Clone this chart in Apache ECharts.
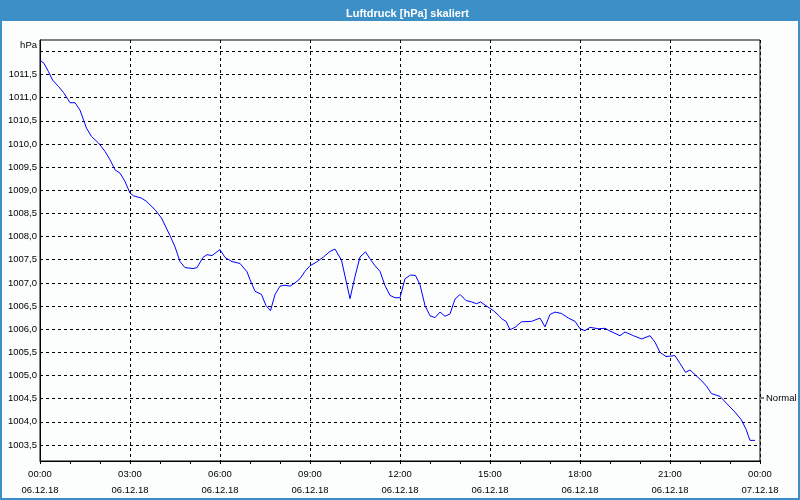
<!DOCTYPE html>
<html>
<head>
<meta charset="utf-8">
<script src="https://cdn.jsdelivr.net/npm/echarts@6/dist/echarts.min.js"></script>
<style>
html,body{margin:0;padding:0;background:#fcfefd;}
#c{width:800px;height:500px;}
</style>
</head>
<body>
<div id="c"></div>
<script>
// time in minutes since 06.12.18 00:00
const minutes = [0,8,17,25,37,47,60,70,80,87,93,103,117,130,140,150,160,170,180,187,203,213,230,243,
260,270,280,290,306,314,326,334,344,360,370,384,400,414,
420,430,443,452,461,470,480,490,500,510,520,530,540,553,567,580,590,603,620,630,640,651,660,670,680,690,700,710,720,
730,741,751,760,770,780,790,800,810,820,830,840,852,863,873,881,893,907,919,
923,932,940,950,963,983,1000,1010,1020,1030,1043,1057,1070,1080,1090,1100,1117,1130,1140,1160,1170,1187,1203,
1220,1230,1240,1252,1270,1280,1291,1300,1310,1323,1333,1343,1360,1373,1390,1403,1412,1420,1430];
const pressure = [1011.81,1011.74,1011.56,1011.38,1011.24,1011.11,1010.89,1010.89,1010.73,1010.52,1010.34,1010.16,1010.02,1009.84,1009.66,1009.44,1009.37,1009.19,1008.94,1008.88,1008.83,1008.76,1008.58,1008.40,
1008.02,1007.78,1007.46,1007.33,1007.31,1007.33,1007.55,1007.61,1007.59,1007.72,1007.55,1007.46,1007.42,1007.24,
1007.07,1006.82,1006.75,1006.51,1006.40,1006.75,1006.93,1006.95,1006.93,1007.00,1007.09,1007.25,1007.37,1007.45,1007.56,1007.68,1007.73,1007.49,1006.66,1007.14,1007.56,1007.67,1007.52,1007.37,1007.25,1006.94,1006.73,1006.68,1006.68,
1007.09,1007.17,1007.16,1006.96,1006.51,1006.29,1006.25,1006.37,1006.28,1006.33,1006.65,1006.75,1006.62,1006.59,1006.55,1006.59,1006.50,1006.40,1006.28,
1006.23,1006.17,1005.99,1006.04,1006.16,1006.17,1006.24,1006.05,1006.32,1006.37,1006.34,1006.24,1006.17,1006.01,1005.97,1006.04,1006.01,1006.02,1005.96,1005.86,1005.94,1005.86,1005.79,
1005.86,1005.72,1005.50,1005.41,1005.43,1005.26,1005.07,1005.12,1005.02,1004.89,1004.77,1004.61,1004.55,1004.40,1004.21,1004.04,1003.84,1003.60,1003.60];
const xTickTimes = ['00:00','03:00','06:00','09:00','12:00','15:00','18:00','21:00','00:00'];
const xTickDates = ['06.12.18','06.12.18','06.12.18','06.12.18','06.12.18','06.12.18','06.12.18','06.12.18','07.12.18'];
const yLabelValues = [1003.5,1004,1004.5,1005,1005.5,1006,1006.5,1007,1007.5,1008,1008.5,1009,1009.5,1010,1010.5,1011,1011.5];
const yGridValues = yLabelValues.concat([1012]);
const seriesName = 'Normal';
const titleText = 'Luftdruck [hPa] skaliert';
const unitText = 'hPa';

const FONT = 'Liberation Sans';
const FS = 9.5;
const data = minutes.map((m, i) => [m, pressure[i]]);
const chart = echarts.init(document.getElementById('c'), null, {renderer: 'canvas'});
chart.setOption({
  animation: false,
  backgroundColor: '#fcfefd',
  textStyle: {fontFamily: FONT},
  graphic: [
    {type: 'rect', z: -10, shape: {x: 0, y: 0, width: 800, height: 21}, style: {fill: '#3d8fc7'}},
    {type: 'rect', z: 100, shape: {x: 1, y: 1, width: 798, height: 498}, style: {fill: 'none', stroke: '#3d8fc7', lineWidth: 2}}
  ],
  title: {
    text: titleText, left: 341, top: 3,
    textStyle: {color: '#ffffff', fontSize: 11, fontWeight: 'bold', fontFamily: FONT}
  },
  legend: {
    data: [seriesName], orient: 'vertical', left: 761, top: 393, padding: 0,
    icon: 'rect', itemWidth: 3, itemHeight: 1, itemGap: 2,
    itemStyle: {color: '#000'},
    textStyle: {color: '#000', fontSize: FS, fontFamily: FONT, padding: [0, 0, 0, -3]}
  },
  grid: {left: 40, top: 40, width: 720, height: 421, show: true, borderColor: '#000', borderWidth: 1, backgroundColor: 'transparent'},
  xAxis: {
    type: 'value', min: 0, max: 1440, interval: 180,
    axisLine: {lineStyle: {color: '#000', width: 1}},
    axisTick: {show: true, length: 3, lineStyle: {color: '#000'}},
    minorTick: {show: true, splitNumber: 3, length: 3, lineStyle: {color: '#000'}},
    splitLine: {show: true, lineStyle: {color: '#000', type: [3, 3], width: 1}},
    axisLabel: {
      color: '#000', fontSize: FS, fontFamily: FONT, margin: 5, lineHeight: 16,
      formatter: function (v) { const i = Math.round(v / 180); return xTickTimes[i] + '\n' + xTickDates[i]; }
    }
  },
  yAxis: {
    type: 'value', min: 1003.155, max: 1012.244,
    name: unitText, nameLocation: 'end', nameGap: -5,
    nameTextStyle: {color: '#000', fontSize: FS, fontFamily: FONT, align: 'right', verticalAlign: 'middle', padding: [0, 3, 0, 0]},
    axisLine: {show: true, lineStyle: {color: '#000', width: 1}},
    axisTick: {show: false, customValues: yGridValues},
    splitLine: {show: true, lineStyle: {color: '#000', type: [3, 3], width: 1}},
    axisLabel: {
      color: '#000', fontSize: FS, fontFamily: FONT, margin: 3, customValues: yLabelValues,
      formatter: function (v) { return v.toFixed(1).replace('.', ','); }
    }
  },
  series: [{
    name: seriesName, type: 'line', data: data, showSymbol: false, symbol: 'none',
    lineStyle: {color: '#0000ff', width: 1}, itemStyle: {color: '#0000ff'}
  }]
});
</script>
</body>
</html>
